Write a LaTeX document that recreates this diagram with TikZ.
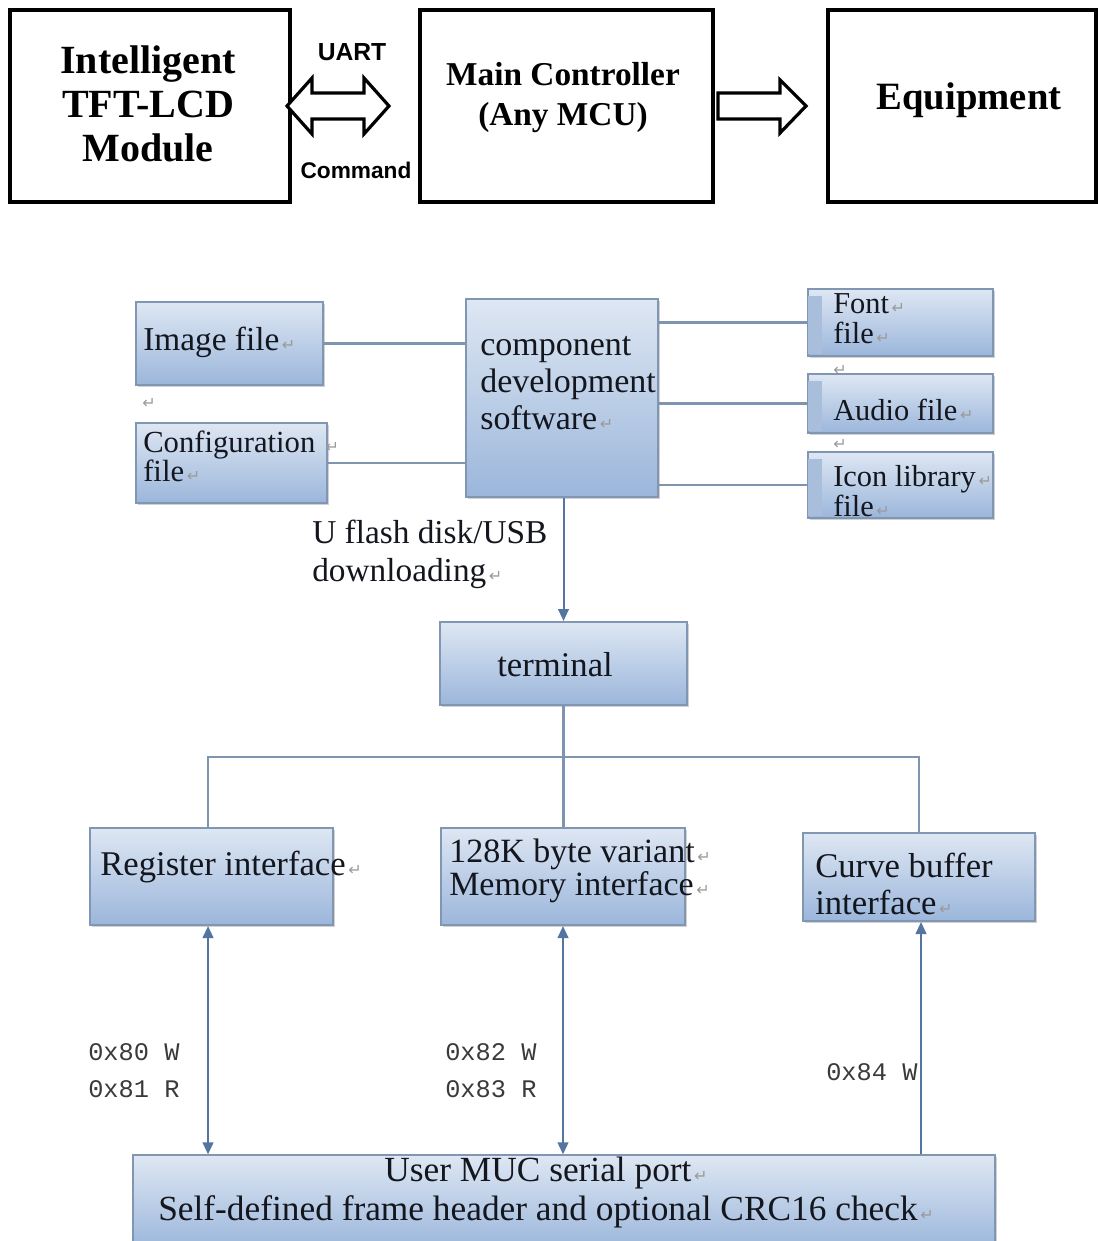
\documentclass[tikz,border=0pt]{standalone}
\usepackage{fontspec}
\setmainfont{Liberation Serif}
\newfontfamily\sansfam{Liberation Sans}
\newfontfamily\monofam{Liberation Mono}
\newfontfamily\symfam{DejaVu Sans}
\usetikzlibrary{arrows.meta,shadows}
\definecolor{boxtop}{HTML}{DEE7F3}
\definecolor{boxbot}{HTML}{9BB6DB}
\definecolor{bordc}{HTML}{8196B2}
\definecolor{linec}{HTML}{7F94AE}
\definecolor{arrc}{HTML}{5475A0}
\definecolor{txtc}{HTML}{14161E}
\definecolor{retc}{HTML}{9A9A9A}
\definecolor{monoc}{HTML}{3A3A3A}
\definecolor{stripc}{HTML}{A9BEDB}
\newcommand\ret{{\symfam\fontsize{12}{12}\selectfont\color{retc}\,↵}}
\begin{document}
\begin{tikzpicture}[x=0.75pt,y=-0.75pt,
  topbox/.style={draw=black,line width=3pt,inner sep=0pt,fill=white},
  toptxt/.style={inner sep=0pt,align=center,text=black},
  fbox/.style={draw=bordc,line width=1.5pt,top color=boxtop,bottom color=boxbot,inner sep=0pt,
    drop shadow={shadow xshift=1.5pt,shadow yshift=-1.5pt,fill=black!40,opacity=.45}},
  btxt/.style={inner sep=0pt,align=left,text=txtc,anchor=west},
  ctxt/.style={inner sep=0pt,align=center,text=txtc},
  mtxt/.style={inner sep=0pt,align=left,text=monoc,anchor=west,font=\monofam\fontsize{19}{27.75}\selectfont},
  stray/.style={inner sep=0pt,font=\symfam\fontsize{12}{12}\selectfont,text=retc},
  conn/.style={draw=linec,line width=2pt},
  arr/.style={draw=arrc,line width=1.5pt,-{Triangle[length=9pt,width=8pt]}},
  barr/.style={draw=arrc,line width=1.5pt,{Triangle[length=9pt,width=8pt]}-{Triangle[length=9pt,width=8pt]}},
  bigarr/.style={draw=black,line width=2.4pt,line join=miter,fill=white}
]
\useasboundingbox (0,0) rectangle (1098,1241);
\clip (0,0) rectangle (1098,1241);

% ---------- top row ----------
\node[topbox,minimum width=210pt,minimum height=144pt] (tft) at (150,106) {};
\node[toptxt,font=\bfseries\fontsize{30}{33}\selectfont] (tfttxt) at (148,104) {Intelligent\\TFT-LCD\\Module};
\node[topbox,minimum width=219.75pt,minimum height=144pt] (mcu) at (566.5,106) {};
\node[toptxt,font=\bfseries\fontsize{25}{30}\selectfont] (mcutxt) at (563,98) {Main Controller\\(Any MCU)};
\node[topbox,minimum width=201pt,minimum height=144pt] (equip) at (962,106) {};
\node[toptxt,font=\bfseries\fontsize{29}{33}\selectfont] (equiptxt) at (969,100) {Equipment};

\draw[bigarr] (287,106) -- (312,78) -- (312,93) -- (364,93) -- (364,78) -- (389,106)
  -- (364,134) -- (364,119) -- (312,119) -- (312,134) -- cycle;
\draw[bigarr] (718,93) -- (780,93) -- (780,80) -- (806,106) -- (780,133) -- (780,119) -- (718,119) -- cycle;
\node[toptxt,font=\sansfam\bfseries\fontsize{18.5}{20}\selectfont] (uart) at (352,52) {UART};
\node[toptxt,font=\sansfam\bfseries\fontsize{17}{20}\selectfont] (cmd) at (356,170) {Command};

% ---------- lower diagram: boxes ----------
\node[fbox,minimum width=140.25pt,minimum height=62.25pt] (imgf) at (229.5,343.5) {};
\node[fbox,minimum width=143.25pt,minimum height=60pt] (conf) at (231.5,463) {};
\node[fbox,minimum width=144pt,minimum height=148.5pt] (cds) at (562,398) {};
\node[fbox,minimum width=138.75pt,minimum height=50.25pt] (fontf) at (900.5,322.5) {};
\node[fbox,minimum width=138.75pt,minimum height=44.25pt] (audio) at (900.5,403.5) {};
\node[fbox,minimum width=138.75pt,minimum height=49.5pt] (icon) at (900.5,485) {};
\node[fbox,minimum width=185.25pt,minimum height=62.25pt] (term) at (563.5,663.5) {};
\node[fbox,minimum width=182.25pt,minimum height=72.75pt] (reg) at (211.5,876.5) {};
\node[fbox,minimum width=183pt,minimum height=72.75pt] (mem) at (563,876.5) {};
\node[fbox,minimum width=174pt,minimum height=66pt] (curve) at (919,877) {};
\node[fbox,minimum width=646.5pt,minimum height=70pt] (user) at (564,1202) {};

% darker left strips of the file boxes
\foreach \b in {fontf,audio,icon}
  \fill[stripc] ([xshift=1pt,yshift=-6pt]\b.north west) rectangle ([xshift=11pt,yshift=2pt]\b.south west);

% texts
\node[btxt,font=\fontsize{25}{28}\selectfont] (imgft) at (143,342) {Image file\ret};
\node[btxt,font=\fontsize{23}{21.75}\selectfont] (conft) at (143,456) {Configuration \ret\\file\ret};
\node[btxt,font=\fontsize{25.5}{27.75}\selectfont] (cdst) at (480,383) {component\\development\\software\ret};
\node[btxt,font=\fontsize{22.8}{22.5}\selectfont] (fontt) at (833,319) {Font\ret\\file\ret};
\node[btxt,font=\fontsize{22.8}{22.5}\selectfont] (audiot) at (833,410) {Audio file\ret};
\node[btxt,font=\fontsize{22.8}{22.5}\selectfont] (icont) at (833,491) {Icon library\ret\\file\ret};
\node[ctxt,font=\fontsize{26}{28}\selectfont] (termt) at (555,665) {terminal};
\node[btxt,font=\fontsize{26}{28}\selectfont] (regt) at (100,867) {Register interface\ret};
\node[btxt,font=\fontsize{25.5}{24.75}\selectfont] (memt) at (449,871) {128K byte variant\ret\\Memory interface\ret};
\node[btxt,font=\fontsize{26}{27.75}\selectfont] (curvet) at (815,884) {Curve buffer\\interface\ret};
\node[ctxt,font=\fontsize{26.5}{29.25}\selectfont] (usert) at (546,1192) {User MUC serial port\ret\\Self-defined frame header and optional CRC16 check\ret};
\node[btxt,font=\fontsize{25}{28.5}\selectfont] (usbt) at (312,554) {U flash disk/USB\\downloading\ret};

\node[mtxt] (m1) at (88,1071) {0x80 W\\0x81 R};
\node[mtxt] (m2) at (445,1071) {0x82 W\\0x83 R};
\node[mtxt] (m3) at (826,1072) {0x84 W};

\node[stray] (s1) at (149,403) {↵};
\node[stray] (s2) at (840,370) {↵};
\node[stray] (s3) at (840,444) {↵};

% ---------- connectors ----------
\draw[conn] (imgf.east) -- (imgf.east -| cds.west);
\draw[conn] (conf.east) -- (conf.east -| cds.west);
\draw[conn] (cds.east |- fontf.west) -- (fontf.west);
\draw[conn] (cds.east |- audio.west) -- (audio.west);
\draw[conn] (cds.east |- icon.west) -- (icon.west);
\draw[arr] (cds.south -| term.north) -- (term.north);
\coordinate (bus) at (563.5,757);
\draw[conn] (term.south) -- (term.south |- mem.north);
\draw[conn] ([xshift=-2.6pt]reg.north) -- ([xshift=-2.6pt]reg.north |- bus) -- (curve.north |- bus) -- (curve.north);
\draw[barr] ([xshift=-2.6pt]reg.south) -- ([xshift=-2.6pt]reg.south |- user.north);
\draw[barr] (mem.south) -- (mem.south |- user.north);
\draw[arr] ([xshift=1.5pt]curve.south |- user.north) -- ([xshift=1.5pt]curve.south);
\end{tikzpicture}
\end{document}
